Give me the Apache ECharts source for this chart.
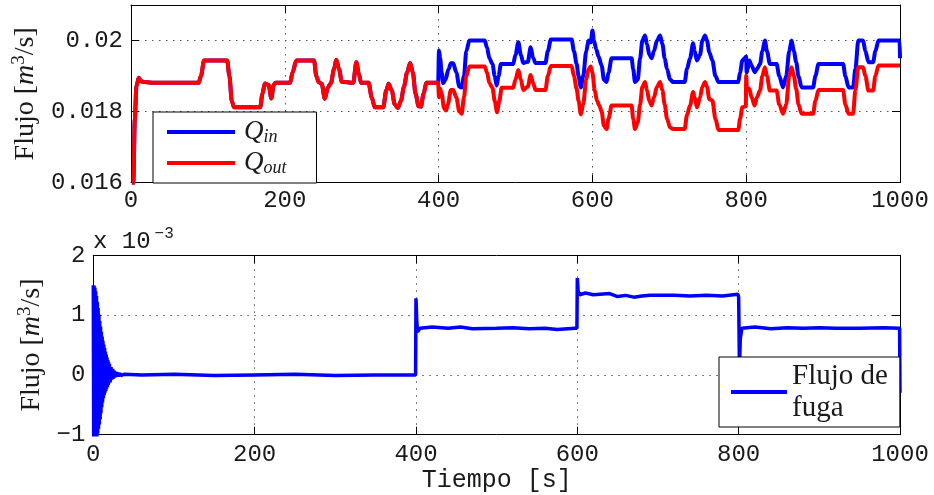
<!DOCTYPE html>
<html>
<head>
<meta charset="utf-8">
<script src="https://cdn.jsdelivr.net/npm/echarts@6/dist/echarts.min.js"></script>
<style>
html,body{margin:0;padding:0;background:#fff;}
#chart{width:934px;height:495px;}
</style>
</head>
<body>
<div id="chart"></div>
<script>
// ---------- DATA ----------
const timeTicks = [0, 200, 400, 600, 800, 1000];
const topFlowTicks = [0.016, 0.018, 0.02];
const leakTicks = [-1, 0, 1, 2]; // x 10^-3

// 0..400 s: Q_in and Q_out coincide  [t (s), flow (m^3/s)]
const qShared = [
  [0, 0.0150], [3, 0.0160], [5, 0.0178], [7, 0.0187], [10, 0.01895], [13, 0.01885], [18, 0.01883], [30, 0.01881],
  [88, 0.01881], [91, 0.0190], [95, 0.01944], [125, 0.01944], [128, 0.0190], [131, 0.0183], [134, 0.01812],
  [168, 0.01812], [171, 0.0185], [174, 0.01879], [179, 0.01875], [182.5, 0.01837], [185.5, 0.01875], [188, 0.01881],
  [207, 0.01881], [210, 0.0191], [215, 0.01944], [238, 0.01944], [241, 0.0190], [244, 0.01883], [248, 0.01878],
  [252, 0.01836], [256, 0.01868], [260, 0.0188], [264, 0.0192], [267, 0.01946], [270.5, 0.0192], [274, 0.01884],
  [289, 0.01881], [293, 0.01939], [296.5, 0.01905], [299, 0.01881], [309, 0.01881], [313, 0.0184], [317, 0.01812],
  [328, 0.01812], [332, 0.0186], [335, 0.01878], [339, 0.0186], [343, 0.0182], [347, 0.0181], [351, 0.0183],
  [355, 0.0187], [359, 0.0191], [363, 0.01937], [366.5, 0.0191], [370, 0.0185], [374, 0.01815], [377, 0.01814],
  [380.5, 0.0185], [384, 0.01881], [399.5, 0.01881]
];

const qInAfter = [
  [400, 0.01881], [400.5, 0.01972], [402, 0.0195], [404, 0.0191], [406, 0.0188], [409, 0.0189], [413, 0.0192],
  [416, 0.01936], [419, 0.01936], [423, 0.0191], [427, 0.0187], [430, 0.01868], [433, 0.0190], [436, 0.0197],
  [440, 0.0200], [460, 0.0200], [463, 0.0198], [466, 0.0195], [470, 0.01934], [473, 0.0190], [475.5, 0.01873],
  [478, 0.0190], [481, 0.01934], [497, 0.01934], [500, 0.0196], [503.7, 0.01995], [507, 0.0196], [510, 0.01937],
  [516, 0.0194], [519.7, 0.01981], [523, 0.0195], [526, 0.01937], [539, 0.01937], [542, 0.0197], [546, 0.02003],
  [573, 0.02003], [576, 0.0197], [579.5, 0.01934], [582, 0.0190], [585, 0.01868], [588, 0.0190], [592, 0.0197],
  [595, 0.0200], [598, 0.01995], [600, 0.02028], [602, 0.0200], [605, 0.01975], [608, 0.01955], [612, 0.0193],
  [615, 0.0189], [618.5, 0.01883], [621, 0.0191], [625, 0.0195], [651, 0.0195], [653, 0.0192], [655.4, 0.01883],
  [659, 0.0189], [662, 0.0195], [665, 0.0200], [668.4, 0.02014], [671, 0.0199], [674, 0.0196], [677, 0.0195],
  [680, 0.0197], [684, 0.0200], [688, 0.02014], [691, 0.0199], [694, 0.0195], [697, 0.0192], [701, 0.0189],
  [705, 0.01883], [720, 0.01883], [723, 0.0192], [727, 0.0195], [731, 0.01992], [733, 0.0197], [736, 0.01944],
  [740, 0.0196], [743, 0.0200], [746.4, 0.02014], [749, 0.0200], [752, 0.01967], [756, 0.01944], [760, 0.0190],
  [764, 0.01883], [789.7, 0.01883], [792, 0.0191], [795, 0.01944], [798, 0.0195], [800, 0.01955], [800.5, 0.0191],
  [802, 0.0192], [804, 0.01944], [807, 0.0193], [811, 0.01911], [814, 0.0192], [818, 0.01934], [821, 0.0197],
  [824.3, 0.0200], [827, 0.0197], [830.8, 0.01934], [839.5, 0.01934], [843, 0.0190], [848, 0.01868], [852, 0.0190],
  [856, 0.0197], [859, 0.0200], [862, 0.0197], [865, 0.01939], [868, 0.0190], [872, 0.01868], [887, 0.01868],
  [890, 0.0190], [894, 0.01934], [926, 0.01934], [929, 0.0190], [933, 0.01868], [939, 0.01868], [942, 0.0192],
  [945.8, 0.0200], [952, 0.0200], [955, 0.0197], [959, 0.01939], [965, 0.01939], [968, 0.0197], [972, 0.0200],
  [999.5, 0.0200], [1000, 0.0195]
];

const qOutAfter = [
  [400, 0.01881], [400.5, 0.0184], [402, 0.01864], [404, 0.0185], [407, 0.0181], [409.6, 0.01803], [412, 0.0182],
  [416, 0.01861], [419, 0.01861], [423, 0.0184], [427, 0.0180], [430, 0.01794], [433, 0.0184], [436, 0.0190],
  [440, 0.01927], [460, 0.01927], [463, 0.0191], [466, 0.0188], [470, 0.01867], [473, 0.0183], [476, 0.01798],
  [479, 0.0183], [482, 0.01867], [497, 0.01867], [500, 0.0189], [503.7, 0.01917], [507, 0.0189], [510, 0.01861],
  [516, 0.0187], [519.7, 0.01903], [523, 0.0188], [526, 0.01861], [539, 0.01861], [542, 0.0190], [546, 0.01928],
  [573, 0.01928], [576, 0.0190], [579.5, 0.01864], [582, 0.0183], [585, 0.01792], [588, 0.0182], [592, 0.0189],
  [595, 0.0192], [598, 0.01927], [600, 0.0191], [603, 0.0186], [606, 0.0183], [609, 0.01817], [612, 0.0180],
  [615, 0.0176], [618.5, 0.01751], [621, 0.0178], [625, 0.01817], [651, 0.01817], [653, 0.0178], [655.4, 0.01751],
  [659, 0.0177], [662, 0.0182], [665, 0.0187], [668.4, 0.01883], [671, 0.0186], [674, 0.0183], [677, 0.01817],
  [680, 0.0184], [684, 0.0187], [688, 0.01883], [691, 0.0186], [694, 0.0182], [697, 0.0178], [701, 0.01755],
  [705, 0.01751], [720, 0.01751], [723, 0.0179], [727, 0.01817], [731, 0.01855], [733, 0.0184], [736, 0.01812],
  [740, 0.0184], [743, 0.0187], [746.4, 0.01883], [749, 0.0187], [752, 0.01835], [756, 0.01831], [760, 0.0178],
  [764, 0.01748], [789.7, 0.01748], [792, 0.0178], [795, 0.01812], [799.5, 0.01815], [800, 0.01901], [801, 0.0186],
  [804, 0.01864], [807, 0.0184], [811, 0.01817], [814, 0.0184], [818, 0.01859], [821, 0.0190], [824.3, 0.01925],
  [827, 0.0190], [830.8, 0.01859], [839.5, 0.01859], [843, 0.0182], [848, 0.01794], [852, 0.0182], [856, 0.0190],
  [859, 0.01925], [862, 0.0190], [865, 0.01864], [868, 0.0182], [872, 0.01794], [887, 0.01794], [890, 0.0183],
  [894, 0.01861], [926, 0.01861], [929, 0.0182], [933, 0.01794], [939, 0.01794], [942, 0.0186], [945.8, 0.01925],
  [952, 0.01925], [955, 0.0190], [959, 0.01859], [965, 0.01859], [968, 0.0190], [972, 0.0193], [1000, 0.0193]
];

// Bottom panel: leak flow in units of 10^-3 m^3/s, [t (s), value]
const leakFlow = [
  [0, 1.50], [0.5, -1.2], [1, 1.49], [1.5, -1.2], [2, 1.46], [2.5, -1.2], [3, 1.40], [3.5, -1.15], [4, 1.32],
  [4.5, -1.05], [5, 1.22], [5.5, -0.98], [6, 1.12], [6.5, -0.90], [7, 1.01], [7.5, -0.83], [8, 0.90], [8.5, -0.74],
  [9, 0.81], [9.5, -0.64], [10, 0.72], [10.5, -0.54], [11, 0.64], [11.5, -0.46], [12, 0.57], [12.5, -0.39],
  [13, 0.51], [13.5, -0.34], [14, 0.45], [14.5, -0.30], [15, 0.39], [15.5, -0.27], [16, 0.34], [16.5, -0.23],
  [17, 0.29], [17.5, -0.20], [18, 0.25], [18.5, -0.17], [19, 0.21], [19.5, -0.14], [20, 0.18], [21, -0.12],
  [22, 0.13], [23, -0.08], [24, 0.10], [25, -0.06], [26, 0.07], [27, -0.04], [28, 0.05], [29, -0.03], [30, 0.04],
  [31, -0.02], [33, 0.03], [34, -0.01], [36, 0.02], [38, 0.01], [60, 0.0], [100, 0.01], [150, -0.01], [200, 0.0],
  [250, 0.01], [300, -0.01], [350, 0.0], [399.5, 0.0], [400, 1.28], [401, 0.90], [402, 0.72], [405, 0.78],
  [420, 0.80], [440, 0.78], [455, 0.80], [470, 0.77], [500, 0.78], [520, 0.79], [540, 0.77], [560, 0.78],
  [575, 0.76], [597, 0.78], [599.5, 0.78], [600, 1.62], [601, 1.40], [603, 1.34], [610, 1.37], [620, 1.34],
  [640, 1.36], [650, 1.31], [660, 1.33], [670, 1.30], [680, 1.32], [690, 1.33], [720, 1.33], [740, 1.32],
  [760, 1.33], [780, 1.32], [799, 1.35], [800, 1.30], [801, 0.10], [802, 0.60], [804, 0.78], [820, 0.80],
  [840, 0.77], [860, 0.79], [880, 0.78], [900, 0.79], [920, 0.78], [950, 0.78], [980, 0.79], [999.5, 0.78],
  [1000, -0.3]
];

// ---------- CHART ----------
const MONO = '"Liberation Mono", "DejaVu Sans Mono", monospace';
const SERIF = '"Liberation Serif", "DejaVu Serif", serif';
const TXT = '#1a1a1a';
const gridDots = { type: [1.5, 5.5], color: '#555', width: 1 };

function fmtTop(v) {
  const r = Number(v.toFixed(4));
  return topFlowTicks.some(t => Math.abs(t - r) < 1e-9) ? String(r) : '';
}
function fmtLeak(v) {
  const r = Math.round(v);
  return leakTicks.indexOf(r) >= 0 && Math.abs(v - r) < 1e-9 ? String(r).replace('-', '\u2212') : '';
}

function xAxisPair(gridIndex, showName, margin) {
  return [
    {
      gridIndex, type: 'value', min: 0, max: 1000, interval: 200, position: 'bottom',
      axisLine: { show: true, onZero: false, lineStyle: { color: '#000', width: 1 } },
      axisTick: { show: true, inside: true, length: 8, lineStyle: { color: '#000' } },
      axisLabel: { show: true, margin, fontFamily: MONO, fontSize: 24, color: TXT,
        formatter: v => timeTicks.indexOf(v) >= 0 ? String(v) : '' },
      splitLine: { show: true, lineStyle: gridDots },
      name: showName ? 'Tiempo [s]' : '', nameLocation: 'middle', nameGap: 31,
      nameTextStyle: { fontFamily: MONO, fontSize: 25, color: TXT }
    },
    {
      gridIndex, type: 'value', min: 0, max: 1000, interval: 200, position: 'top',
      axisLine: { show: true, onZero: false, lineStyle: { color: '#000', width: 1 } },
      axisTick: { show: true, inside: true, length: 8, lineStyle: { color: '#000' } },
      axisLabel: { show: false }, splitLine: { show: false }
    }
  ];
}

const yNameRich = {
  n: { fontFamily: SERIF, fontSize: 28, color: TXT, lineHeight: 32 },
  i: { fontFamily: SERIF, fontSize: 28, fontStyle: 'italic', color: TXT, lineHeight: 32 },
  s: { fontFamily: SERIF, fontSize: 19, color: TXT, lineHeight: 32, verticalAlign: 'top' }
};

function yAxisPair(gridIndex, min, max, interval, fmt, nameGap) {
  return [
    {
      gridIndex, type: 'value', min, max, interval, position: 'left',
      axisLine: { show: true, onZero: false, lineStyle: { color: '#000', width: 1 } },
      axisTick: { show: true, inside: true, length: 8, lineStyle: { color: '#000' } },
      axisLabel: { show: true, margin: 8, fontFamily: MONO, fontSize: 24, color: TXT, formatter: fmt },
      splitLine: { show: true, lineStyle: gridDots },
      name: '{n|Flujo [}{i|m}{s|3}{n|/s]}', nameLocation: 'middle', nameGap, nameRotate: 90,
      nameTextStyle: { rich: yNameRich }
    },
    {
      gridIndex, type: 'value', min, max, interval, position: 'right',
      axisLine: { show: true, onZero: false, lineStyle: { color: '#000', width: 1 } },
      axisTick: { show: true, inside: true, length: 8, lineStyle: { color: '#000' } },
      axisLabel: { show: false }, splitLine: { show: false }
    }
  ];
}

const chart = echarts.init(document.getElementById('chart'), null, { renderer: 'canvas' });

const option = {
  animation: false,
  backgroundColor: '#fff',
  grid: [
    { left: 131, top: 5, width: 769, height: 177.6, containLabel: false, outerBoundsMode: 'none' },
    { left: 93.3, top: 255.3, width: 806.7, height: 179.4, containLabel: false, outerBoundsMode: 'none' }
  ],
  xAxis: [...xAxisPair(0, false, 6), ...xAxisPair(1, true, 8)],
  yAxis: [
    ...yAxisPair(0, 0.016, 0.021, 0.002, fmtTop, 89),
    ...yAxisPair(1, -1, 2, 1, fmtLeak, 39)
  ],
  legend: [
    {
      data: ['Q_in', 'Q_out'],
      left: 153, top: 112, orient: 'vertical',
      icon: 'rect', itemWidth: 68, itemHeight: 4, itemGap: 3,
      padding: [6, 30, 6, 14],
      backgroundColor: '#fff', borderColor: '#000', borderWidth: 1,
      formatter: name => name === 'Q_in' ? '{q|Q}{b|in}' : '{q|Q}{b|out}',
      textStyle: {
        padding: [0, 0, 0, 4], lineHeight: 28,
        rich: {
          q: { fontFamily: SERIF, fontSize: 27, fontStyle: 'italic', color: TXT, lineHeight: 28 },
          b: { fontFamily: SERIF, fontSize: 18, fontStyle: 'italic', color: TXT, lineHeight: 28, verticalAlign: 'bottom' }
        }
      }
    },
    {
      data: ['Flujo de fuga'],
      left: 719, top: 357, orient: 'vertical',
      icon: 'rect', itemWidth: 56, itemHeight: 4,
      padding: [3, 12, 3, 12],
      backgroundColor: '#fff', borderColor: '#000', borderWidth: 1,
      formatter: () => 'Flujo de\nfuga',
      textStyle: { fontFamily: SERIF, fontSize: 29, color: TXT, lineHeight: 32 }
    }
  ],
  graphic: [
    {
      type: 'text', left: 93, top: 226, z: 100,
      style: {
        text: '{a|x 10}{e|\u22123}',
        rich: {
          a: { fontFamily: MONO, fontSize: 24, fill: TXT, lineHeight: 28, verticalAlign: 'bottom' },
          e: { fontFamily: MONO, fontSize: 16, fill: TXT, lineHeight: 28, verticalAlign: 'top', padding: [0, 0, 0, 4] }
        }
      }
    }
  ],
  series: [
    {
      name: 'Q_in', type: 'line', xAxisIndex: 0, yAxisIndex: 0,
      data: qShared.concat(qInAfter), showSymbol: false, clip: true,
      smooth: 0.3, smoothMonotone: 'x',
      lineStyle: { color: '#0000ff', width: 4 }, itemStyle: { color: '#0000ff' }
    },
    {
      name: 'Q_out', type: 'line', xAxisIndex: 0, yAxisIndex: 0,
      data: qShared.concat(qOutAfter), showSymbol: false, clip: true,
      smooth: 0.3, smoothMonotone: 'x',
      lineStyle: { color: '#ff0000', width: 4 }, itemStyle: { color: '#ff0000' }
    },
    {
      name: 'Flujo de fuga', type: 'line', xAxisIndex: 2, yAxisIndex: 2,
      data: leakFlow, showSymbol: false, clip: true,
      lineStyle: { color: '#0000ff', width: 3.5 }, itemStyle: { color: '#0000ff' }
    }
  ]
};

chart.setOption(option);
</script>
</body>
</html>
